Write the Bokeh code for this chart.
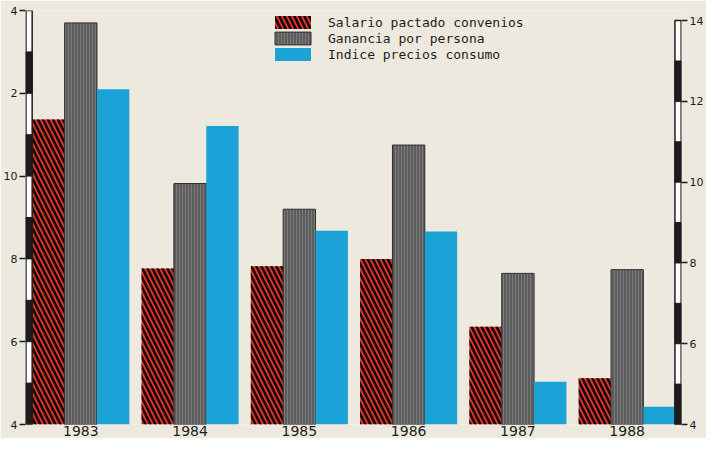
import numpy as np
from bokeh.plotting import figure
from bokeh.models import Range1d, LinearAxis, FixedTicker, Legend, LegendItem, ColumnDataSource
from bokeh.transform import dodge
from bokeh.embed import file_html
from bokeh.resources import INLINE

# ---- data ----
years = ["1983", "1984", "1985", "1986", "1987", "1988"]
salario = [11.37, 7.77, 7.82, 8.00, 6.36, 5.12]
ganancia = [13.70, 9.82, 9.20, 10.75, 7.65, 7.74]
ipc = [12.10, 11.21, 8.68, 8.66, 5.03, 4.43]
series_names = ["Salario pactado convenios", "Ganancia por persona", "Indice precios consumo"]
tick_values = [4, 6, 8, 10, 12, 14]
left_labels = ["4", "6", "8", "10", "2", "4"]
right_labels = ["4", "6", "8", "10", "12", "14"]

BG = "#eee9de"
RED = "#e3332a"
GRAY = "#5c5c5c"
BLUE = "#1ba2d6"
INK = "#1c1c1c"

W, H = 706, 438
YMIN, YMAX = 4, 14
p = figure(width=W, height=H, output_backend="svg", toolbar_location=None,
           x_range=Range1d(-0.506, 5.497), y_range=Range1d(YMIN, YMAX),
           min_border_left=22, min_border_right=21, min_border_top=10, min_border_bottom=10,
           background_fill_color=BG, border_fill_color=BG, outline_line_color=None)
p.grid.visible = False
p.extra_y_ranges = {"r": Range1d(YMIN, YMAX + 0.25)}

# ---- bars ----
idx = np.arange(len(years))
bw = 0.296
src = ColumnDataSource(dict(x=idx, s=salario, g=ganancia, c=ipc))
r_sal = p.vbar(x=dodge("x", -bw, range=p.x_range), top="s", bottom=YMIN, width=bw, source=src,
               fill_color=RED, line_color=None,
               hatch_pattern="left_diagonal_line", hatch_color="#160808",
               hatch_scale=10, hatch_weight=2.6)
r_gan = p.vbar(x=dodge("x", 0, range=p.x_range), top="g", bottom=YMIN, width=bw, source=src,
               fill_color=GRAY, line_color="#2e2e2e", line_width=1,
               hatch_pattern="vertical_line", hatch_color="#7c7c7c",
               hatch_scale=3, hatch_weight=1)
r_ipc = p.vbar(x=dodge("x", bw, range=p.x_range), top="c", bottom=YMIN, width=bw, source=src,
               fill_color=BLUE, line_color=None)

# ---- scale-bar style axes (alternating black/white segments) ----
seg_lo = list(range(YMIN, YMAX))
black_lo = [v for v in seg_lo if v % 2 == 0]
bar_w = 0.057
lx0, lx1 = -0.502, -0.502 + bar_w
rx1 = 5.494
rx0 = rx1 - bar_w
p.quad(left=[lx0], right=[lx1], bottom=[YMIN], top=[YMAX], fill_color="white",
       line_color=INK, line_width=1.5)
p.quad(left=lx0, right=lx1, bottom=black_lo, top=[v + 1 for v in black_lo],
       fill_color=INK, line_color=INK)
p.quad(left=[rx0], right=[rx1], bottom=[YMIN], top=[YMAX], fill_color="white",
       line_color=INK, line_width=1.5, y_range_name="r")
p.quad(left=rx0, right=rx1, bottom=black_lo, top=[v + 1 for v in black_lo],
       fill_color=INK, line_color=INK, y_range_name="r")

# ---- axes ----
def style_y(ax, labels):
    ax.ticker = FixedTicker(ticks=tick_values)
    ax.major_label_overrides = {v: l for v, l in zip(tick_values, labels)}
    ax.axis_line_color = None
    ax.major_tick_in = 0
    ax.major_tick_out = 6
    ax.major_tick_line_color = INK
    ax.major_tick_line_width = 1.5
    ax.minor_tick_line_color = None
    ax.minor_tick_in = 0
    ax.minor_tick_out = 0
    ax.major_label_standoff = 2
    ax.major_label_text_font = "DejaVu Sans"
    ax.major_label_text_font_size = "11px"
    ax.major_label_text_color = INK

style_y(p.yaxis[0], left_labels)
raxis = LinearAxis(y_range_name="r")
style_y(raxis, right_labels)
p.add_layout(raxis, "right")

xa = p.xaxis[0]
xa.ticker = FixedTicker(ticks=list(idx))
xa.major_label_overrides = {int(i): y for i, y in zip(idx, years)}
xa.axis_line_color = None
xa.major_tick_line_color = None
xa.minor_tick_line_color = None
xa.major_tick_in = 0
xa.major_tick_out = 0
xa.minor_tick_in = 0
xa.minor_tick_out = 0
xa.major_label_standoff = 1
xa.major_label_text_font = "DejaVu Sans"
xa.major_label_text_font_size = "14px"
xa.major_label_text_color = INK

# ---- legend ----
legend = Legend(items=[LegendItem(label=series_names[0], renderers=[r_sal]),
                       LegendItem(label=series_names[1], renderers=[r_gan]),
                       LegendItem(label=series_names[2], renderers=[r_ipc])],
                location=(245, 362), orientation="vertical",
                padding=0, margin=0, spacing=0,
                glyph_width=45, glyph_height=16, label_height=14, label_standoff=13,
                label_text_font="DejaVu Sans Mono", label_text_font_size="13px",
                label_text_color=INK, border_line_color=None, background_fill_alpha=0)
p.add_layout(legend)

open("out.html", "w").write(file_html(p, INLINE))
